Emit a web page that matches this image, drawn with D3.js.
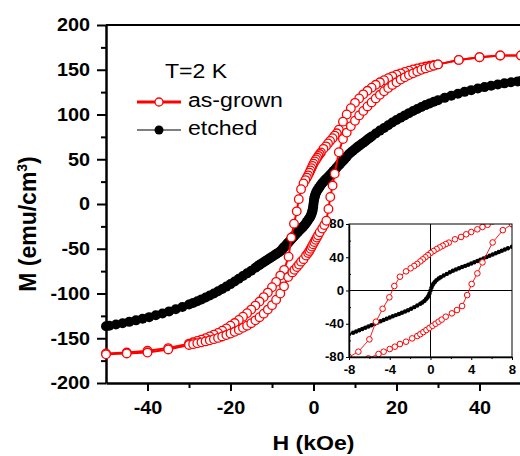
<!DOCTYPE html>
<html>
<head>
<meta charset="utf-8">
<script src="https://cdn.jsdelivr.net/npm/d3@7"></script>
<style>
  body { margin: 0; background: #fff; }
  svg { display: block; }
  text { font-family: "Liberation Sans", Arial, Helvetica, sans-serif; fill: #000; }
</style>
</head>
<body>
<svg id="chart" width="520" height="456"></svg>
<script>
// M(H) loop of the as-grown film, field sweeping down from +50 kOe: [H (kOe), M (emu/cm3)]
const asGrownDown = [
  [50,166],[45,166],[40,164],[35,161],[30,156],[29,155.3],[28,154.5],[27,153.6],[26,152.6],[25,151.5],
  [24,150.3],[23,149],[22,147.6],[21,146],[20,144.4],[19,142.6],[18,140.6],[17,138.4],[16,136],[15,133.2],
  [14,130],[13,126.5],[12,122.5],[11,118],[10,113],[9,107],[8,100],[7.1,92],[6.1,83],[5.6,79],
  [5.1,76.4],[4.6,73.6],[4.0,70.4],[3.5,67.6],[3.0,64.4],[2.4,61.6],[1.8,57.6],[1.5,55.8],[1.2,53.8],[0.9,51.8],
  [0.6,49.8],[0.3,47.5],[0,45],[-0.25,42.5],[-0.5,40],[-0.75,37.5],[-1.0,35],[-1.3,32],[-1.6,29.5],[-1.95,26.7],
  [-2.4,23],[-3.0,16.6],[-3.55,5.4],[-4.04,-8.2],[-4.7,-22],[-5.35,-37.5],[-6.0,-58.8],[-7.08,-73.6],[-8,-80],[-9,-87],
  [-10,-93],[-11,-99],[-12,-104],[-13,-109],[-14,-113.5],[-15,-118],[-16,-122],[-17,-126],[-18,-129.5],[-19,-133],
  [-20,-136],[-21,-139],[-22,-141.5],[-23,-144],[-24,-146],[-25,-148],[-26,-150],[-27,-151.5],[-28,-153],[-29,-154.5],
  [-30,-156],[-35,-161],[-40,-164],[-45,-166],[-50,-167]
];

// Return sweep of the as-grown film, field going up from -50 kOe
const asGrownUp = [
  [-50,-168],[-45,-167],[-40,-166],[-35,-162.5],[-30,-157.5],[-29,-156.6],[-28,-155.6],[-27,-154.6],[-26,-153.5],[-25,-152.3],
  [-24,-151],[-23,-149.6],[-22,-148],[-21,-146.4],[-20,-144.7],[-19,-142.8],[-18,-140.7],[-17,-138.4],[-16,-136],[-15,-133.2],
  [-14,-130],[-13,-126.5],[-12,-122.5],[-11,-118],[-10,-113],[-9,-107],[-8,-100],[-7.1,-92],[-6.1,-81.6],[-5.1,-76.4],
  [-4.6,-73.6],[-4.0,-70.4],[-3.5,-67.6],[-3.0,-64.4],[-2.4,-61.6],[-1.8,-57.6],[-1.3,-54.8],[-1.0,-52.5],[-0.7,-50],[-0.4,-47.5],
  [-0.1,-45],[0.2,-42.5],[0.5,-40],[0.8,-37.5],[1.1,-35],[1.5,-31.5],[2.1,-27.5],[2.6,-23.5],[3.1,-18.7],[3.6,-5.5],
  [4.04,7.8],[4.6,20.6],[5.1,33.8],[6.1,57.8],[7.1,72.6],[8,79.8],[9,87],[10,93],[11,99],[12,104],
  [13,109],[14,113.5],[15,118],[16,122],[17,126],[18,129.5],[19,133],[20,136],[21,139],[22,141.5],
  [23,144],[24,146],[25,148],[26,150],[27,151.5],[28,153],[29,154.5],[30,156],[35,161],[40,164],
  [45,166],[50,166]
];

// Etched film: no visible hysteresis, one sweep from -50 to +50 kOe
const etched = [
  [-50,-136.6],[-49.2,-136],[-47.6,-134.6],[-46,-133.2],[-44.4,-131.7],[-42.8,-130],[-41.2,-128.3],[-39.6,-126.4],
  [-38,-124.4],[-36.4,-122.3],[-34.8,-120],[-33.2,-117.6],[-31.6,-115],[-30,-112.3],[-29,-110.5],[-28,-108.6],
  [-27,-106.6],[-26,-104.5],[-25,-102.3],[-24,-100],[-23,-97.5],[-22,-95],[-21,-92.3],[-20,-89.5],
  [-19,-86.5],[-18,-83.5],[-17,-80.5],[-16,-77.5],[-15,-74.5],[-14,-71.2],[-13.5,-69.6],[-13,-68],
  [-12.5,-66.5],[-12,-65],[-11.5,-63.5],[-11,-62],[-10.5,-60.5],[-10,-59],[-9.5,-57.5],[-9,-56],
  [-8.5,-54.5],[-8,-52.7],[-7.6,-50.8],[-7.3,-49.3],[-7,-47.8],[-6.7,-46.3],[-6.4,-44.8],[-6.1,-43.3],
  [-5.8,-41.8],[-5.5,-40.2],[-5.2,-38.6],[-4.9,-37],[-4.6,-35.5],[-4.3,-34],[-4,-32.5],[-3.7,-31],
  [-3.4,-29.6],[-3.1,-28.2],[-2.8,-26.8],[-2.5,-25.3],[-2.2,-23.7],[-1.9,-22],[-1.6,-20],[-1.3,-18],
  [-1,-16],[-0.8,-14.5],[-0.6,-12.5],[-0.45,-10.5],[-0.3,-8.5],[-0.2,-6.5],[-0.1,-3.5],[0,0],
  [0.1,3.5],[0.2,6.5],[0.3,8.5],[0.45,10.5],[0.6,12.5],[0.8,14.5],[1,16],[1.3,18],
  [1.6,20],[1.9,22],[2.2,23.7],[2.5,25.3],[2.8,26.8],[3.1,28.2],[3.4,29.6],[3.7,31],
  [4,32.5],[4.3,34],[4.6,35.5],[4.9,37],[5.2,38.6],[5.5,40.2],[5.8,41.8],[6.1,43.3],
  [6.4,44.8],[6.7,46.3],[7,47.8],[7.3,49.3],[7.6,50.8],[8,52.7],[8.5,55.5],[9,57.5],
  [9.5,59.5],[10,61.5],[10.5,63.3],[11,65],[11.5,66.8],[12,68.5],[12.5,70.2],[13,72],
  [13.5,73.7],[14,75.4],[15,78.8],[16,82],[17,85],[18,88],[19,91],[20,93.8],
  [21,96.5],[22,99],[23,101.5],[24,104],[25,106.2],[26,108.4],[27,110.5],[28,112.4],
  [29,114.2],[30,116],[31.6,118.6],[33.2,121],[34.8,123.2],[36.4,125.3],[38,127.2],[39.6,129],
  [41.2,130.6],[42.8,132.2],[44.4,133.6],[46,134.8],[47.6,136],[49.2,137],[50,137.5]
];

// Axis ticks
const mainXTicks = [-40, -20, 0, 20, 40];
const mainXMinor = [-30, -10, 10, 30];
const mainYTicks = [-200, -150, -100, -50, 0, 50, 100, 150, 200];
const mainYMinor = [-175, -125, -75, -25, 25, 75, 125, 175];
const insetXTicks = [-8, -4, 0, 4, 8];
const insetXMinor = [-6, -2, 2, 6];
const insetYTicks = [-80, -40, 0, 40, 80];
const insetYMinor = [-60, -20, 20, 60];

// Legend
const legendTitle = "T=2 K";
const legendLabels = ["as-grown", "etched"];

const RED = "#ff0000";
const svg = d3.select("#chart");

// Origin-style lettering is a little wider than Arial
function widen(sel, k) {
  sel.each(function () {
    const t = d3.select(this);
    const x0 = +t.attr("x") || 0;
    t.attr("transform", `translate(${x0},0) scale(${k},1) translate(${-x0},0)`);
  });
}

// ---------- main panel ----------
const box = { left: 106, right: 521, top: 25, bottom: 383 };
const x = d3.scaleLinear().domain([-50, 50]).range([box.left, box.right]);
const y = d3.scaleLinear().domain([-200, 200]).range([box.bottom, box.top]);
const fmt = d => String(d);

function styleAxis(g, domainW, tickW) {
  g.select(".domain").attr("stroke", "#000").attr("stroke-width", domainW);
  g.selectAll(".tick line").attr("stroke", "#000").attr("stroke-width", tickW);
}

// frame (top and right edges)
svg.append("line").attr("x1", box.left).attr("x2", box.right).attr("y1", box.top).attr("y2", box.top)
  .attr("stroke", "#000").attr("stroke-width", 2);
svg.append("line").attr("x1", box.right).attr("x2", box.right).attr("y1", box.top).attr("y2", box.bottom)
  .attr("stroke", "#000").attr("stroke-width", 2);

// minor ticks
svg.append("g").attr("transform", `translate(0,${box.bottom})`)
  .call(d3.axisBottom(x).tickValues(mainXMinor).tickSize(5).tickSizeOuter(0).tickFormat(""))
  .call(g => { styleAxis(g, 0, 2); g.select(".domain").remove(); });
svg.append("g").attr("transform", `translate(${box.left},0)`)
  .call(d3.axisLeft(y).tickValues(mainYMinor).tickSize(5).tickSizeOuter(0).tickFormat(""))
  .call(g => { styleAxis(g, 0, 2); g.select(".domain").remove(); });

// major axes
const gx = svg.append("g").attr("transform", `translate(0,${box.bottom})`)
  .call(d3.axisBottom(x).tickValues(mainXTicks).tickSize(8).tickSizeOuter(0).tickPadding(10).tickFormat(fmt))
  .call(g => styleAxis(g, 2.5, 2));
gx.selectAll("text").attr("font-size", 18).attr("font-weight", 700).attr("font-family", null);
widen(gx.selectAll("text"), 1.1);

const gy = svg.append("g").attr("transform", `translate(${box.left},0)`)
  .call(d3.axisLeft(y).tickValues(mainYTicks).tickSize(9).tickSizeOuter(0).tickPadding(7).tickFormat(fmt))
  .call(g => styleAxis(g, 2.5, 2));
gy.selectAll("text").attr("font-size", 18).attr("font-weight", 700).attr("font-family", null);
widen(gy.selectAll("text"), 1.1);

// axis titles
const xt = svg.append("text").attr("x", x(0)).attr("y", 450).attr("text-anchor", "middle")
  .attr("font-size", 21).attr("font-weight", 700).text("H (kOe)");
widen(xt, 1.1);

const yt = svg.append("text").attr("transform", "translate(36,224) rotate(-90)")
  .attr("text-anchor", "middle").attr("font-size", 23).attr("font-weight", 700);
yt.append("tspan").text("M (emu/cm");
yt.append("tspan").attr("font-size", 14).attr("dy", -9).text("3");
yt.append("tspan").attr("dy", 9).text(")");

// data
const line = d3.line().x(d => x(d[0])).y(d => y(d[1]));
const plot = svg.append("g");

plot.append("path").datum(etched).attr("d", line).attr("fill", "none").attr("stroke", "#000").attr("stroke-width", 1);
plot.append("g").selectAll("circle").data(etched).join("circle")
  .attr("cx", d => x(d[0])).attr("cy", d => y(d[1])).attr("r", 5).attr("fill", "#000");

[asGrownDown, asGrownUp].forEach(branch => {
  plot.append("path").datum(branch).attr("d", line).attr("fill", "none")
    .attr("stroke", RED).attr("stroke-width", 2);
});
[asGrownDown, asGrownUp].forEach(branch => {
  plot.append("g").selectAll("circle").data(branch).join("circle")
    .attr("cx", d => x(d[0])).attr("cy", d => y(d[1])).attr("r", 4.3)
    .attr("fill", "#fff").attr("stroke", RED).attr("stroke-width", 1.3);
});

// legend
const lt = svg.append("text").attr("x", 165).attr("y", 78).attr("font-size", 21).text(legendTitle);
widen(lt, 1.1);

const leg = svg.append("g");
const legRows = [
  { label: legendLabels[0], y: 102, stroke: RED, lw: 3, fill: "#fff", r: 4, sw: 1.3 },
  { label: legendLabels[1], y: 130, stroke: "#000", lw: 1.2, fill: "#000", r: 4.5, sw: 0 }
];
legRows.forEach(row => {
  leg.append("line").attr("x1", 137).attr("x2", 181).attr("y1", row.y).attr("y2", row.y)
    .attr("stroke", row.stroke).attr("stroke-width", row.lw);
  leg.append("circle").attr("cx", 159).attr("cy", row.y).attr("r", row.r)
    .attr("fill", row.fill).attr("stroke", row.stroke).attr("stroke-width", row.sw);
  const t = leg.append("text").attr("x", 188).attr("y", row.y + 5.5).attr("font-size", 21).text(row.label);
  widen(t, 1.1);
});

// ---------- inset: low-field detail ----------
const ib = { left: 349, right: 512, top: 224, bottom: 357 };
const ix = d3.scaleLinear().domain([-8, 8]).range([ib.left, ib.right]);
const iy = d3.scaleLinear().domain([-80, 80]).range([ib.bottom, ib.top]);
const iline = d3.line().x(d => ix(d[0])).y(d => iy(d[1]));

svg.append("defs").append("clipPath").attr("id", "inset-clip")
  .append("rect").attr("x", ib.left).attr("y", ib.top)
  .attr("width", ib.right - ib.left).attr("height", ib.bottom - ib.top);

const inset = svg.append("g");
inset.append("rect").attr("x", ib.left).attr("y", ib.top)
  .attr("width", ib.right - ib.left).attr("height", ib.bottom - ib.top).attr("fill", "#fff");

// zero cross-hair
inset.append("line").attr("x1", ix(0)).attr("x2", ix(0)).attr("y1", ib.top).attr("y2", ib.bottom)
  .attr("stroke", "#000").attr("stroke-width", 1);
inset.append("line").attr("x1", ib.left).attr("x2", ib.right).attr("y1", iy(0)).attr("y2", iy(0))
  .attr("stroke", "#000").attr("stroke-width", 1);

const idata = inset.append("g").attr("clip-path", "url(#inset-clip)");
idata.append("path").datum(etched).attr("d", iline).attr("fill", "none").attr("stroke", "#000").attr("stroke-width", 0.8);
idata.append("g").selectAll("circle").data(etched).join("circle")
  .attr("cx", d => ix(d[0])).attr("cy", d => iy(d[1])).attr("r", 2.2).attr("fill", "#000");
[asGrownDown, asGrownUp].forEach(branch => {
  idata.append("path").datum(branch).attr("d", iline).attr("fill", "none")
    .attr("stroke", RED).attr("stroke-width", 0.9);
  idata.append("g").selectAll("circle").data(branch).join("circle")
    .attr("cx", d => ix(d[0])).attr("cy", d => iy(d[1])).attr("r", 2.8)
    .attr("fill", "#fff").attr("stroke", RED).attr("stroke-width", 1);
});

// inset frame and axes
inset.append("rect").attr("x", ib.left).attr("y", ib.top)
  .attr("width", ib.right - ib.left).attr("height", ib.bottom - ib.top)
  .attr("fill", "none").attr("stroke", "#000").attr("stroke-width", 1);

inset.append("g").attr("transform", `translate(0,${ib.bottom})`)
  .call(d3.axisBottom(ix).tickValues(insetXMinor).tickSize(2).tickSizeOuter(0).tickFormat(""))
  .call(g => { styleAxis(g, 0, 1); g.select(".domain").remove(); });
inset.append("g").attr("transform", `translate(${ib.left},0)`)
  .call(d3.axisRight(iy).tickValues(insetYMinor).tickSize(2).tickSizeOuter(0).tickFormat(""))
  .call(g => { styleAxis(g, 0, 1); g.select(".domain").remove(); });

const igx = inset.append("g").attr("transform", `translate(0,${ib.bottom})`)
  .call(d3.axisBottom(ix).tickValues(insetXTicks).tickSize(3).tickSizeOuter(0).tickPadding(5).tickFormat(fmt))
  .call(g => styleAxis(g, 1.5, 1));
igx.selectAll("text").attr("font-size", 12).attr("font-weight", 700).attr("font-family", null);
widen(igx.selectAll("text"), 1.1);

const igy = inset.append("g").attr("transform", `translate(${ib.left},0)`)
  .call(d3.axisLeft(iy).tickValues(insetYTicks).tickSize(3).tickSizeOuter(0).tickPadding(2).tickFormat(fmt))
  .call(g => styleAxis(g, 1.5, 1));
igy.selectAll("text").attr("font-size", 12).attr("font-weight", 700).attr("font-family", null);
widen(igy.selectAll("text"), 1.1);
</script>
</body>
</html>
